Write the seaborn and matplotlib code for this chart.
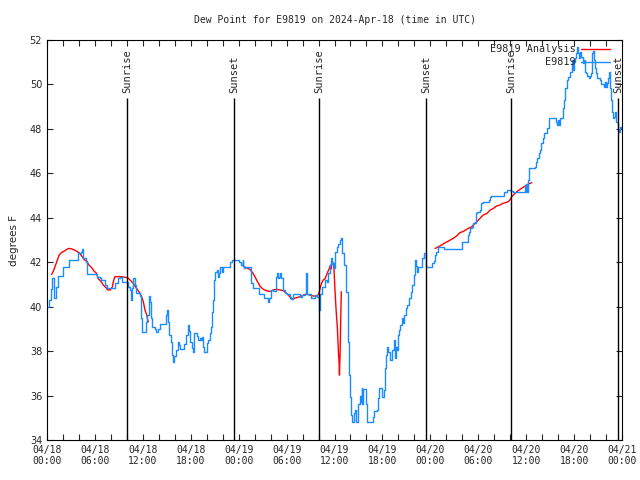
import pandas as pd
import matplotlib
matplotlib.use('Agg')
import matplotlib.pyplot as plt
import matplotlib.dates as mdates
import seaborn as sns

# hours since 2024-04-18 00:00 UTC, dew point in degrees F
obs_day1 = [(0.0, 40.0), (0.2, 40.3), (0.45, 40.8), (0.66, 41.3), (0.9, 40.4), (1.1, 40.9),
            (1.4, 41.4), (2.0, 41.8), (2.7, 42.1), (3.9, 42.4), (4.3, 42.45), (4.4, 42.6),
            (4.5, 42.2), (4.9, 42.0), (5.05, 41.45), (6.2, 41.45), (6.3, 41.35), (6.6, 41.27),
            (6.8, 41.2), (7.3, 40.97), (7.5, 40.83), (8.3, 40.83), (8.5, 41.05), (8.9, 41.27),
            (9.2, 41.35), (9.35, 41.12), (10.2, 40.9), (10.4, 40.75), (10.5, 40.3), (10.7, 40.83),
            (10.8, 41.27), (11.0, 40.97), (11.2, 40.6), (11.6, 40.5), (11.77, 39.47), (11.85, 38.87),
            (12.35, 39.3), (12.5, 39.62), (12.75, 40.5), (12.9, 40.2), (13.05, 39.47), (13.2, 39.1),
            (13.5, 39.0), (13.7, 38.87), (13.9, 39.0), (14.15, 39.2), (14.85, 39.62), (15.0, 39.85),
            (15.1, 39.3), (15.28, 38.72), (15.5, 38.42), (15.7, 37.82), (15.8, 37.5), (15.9, 37.8),
            (16.1, 38.05), (16.4, 38.42), (16.55, 38.28), (16.7, 38.1), (17.2, 38.3), (17.45, 38.72),
            (17.65, 39.17), (17.75, 38.9), (17.9, 38.42), (18.1, 38.12), (18.25, 37.95), (18.45, 38.8),
            (18.8, 38.7), (18.9, 38.5), (19.1, 38.6), (19.3, 38.5), (19.4, 38.65), (19.55, 38.2),
            (19.66, 37.97), (20.0, 38.35), (20.15, 38.5), (20.4, 38.8), (20.5, 39.1), (20.6, 39.77),
            (20.8, 40.3), (20.9, 41.2), (21.0, 41.57), (21.25, 41.65), (21.35, 41.35), (21.5, 41.5),
            (21.66, 41.8), (21.9, 41.57), (22.1, 41.8), (22.9, 42.02), (23.2, 42.12), (23.75, 42.12),
            (24.0, 42.0), (24.3, 41.87), (24.5, 42.1), (24.6, 41.85), (24.7, 41.72), (24.8, 41.8)]

obs_day2 = [(25.4, 41.8), (25.5, 41.5), (25.6, 41.05), (25.76, 40.83), (26.3, 40.83), (26.5, 40.57),
            (27.0, 40.57), (27.2, 40.37), (27.6, 40.37), (27.7, 40.22), (27.8, 40.37), (28.1, 40.75),
            (28.3, 40.72), (28.7, 41.35), (28.8, 41.53), (28.95, 41.27), (29.1, 41.35), (29.2, 41.53),
            (29.3, 41.27), (29.5, 40.75), (29.7, 40.75), (29.8, 40.6), (30.1, 40.58), (30.4, 40.45),
            (30.6, 40.33), (30.85, 40.57), (31.5, 40.57), (31.7, 40.45), (31.9, 40.52), (32.3, 40.58),
            (32.4, 41.5), (32.5, 41.2), (32.6, 40.58), (32.9, 40.55), (33.0, 40.37), (33.4, 40.37),
            (33.6, 40.52), (33.8, 40.45), (33.95, 40.45), (34.0, 40.0), (34.1, 39.85), (34.2, 40.58),
            (34.4, 40.9), (34.6, 40.9), (34.8, 41.2), (35.0, 41.12), (35.2, 41.5), (35.4, 41.87),
            (35.6, 42.17), (35.7, 41.9), (35.8, 41.95), (35.9, 41.75), (36.06, 42.47), (36.3, 42.7),
            (36.5, 42.82), (36.7, 43.0), (36.8, 43.1), (36.9, 42.4), (37.1, 42.4), (37.2, 41.87),
            (37.4, 40.67), (37.65, 39.47), (37.7, 38.42), (37.8, 36.92), (37.95, 35.95), (38.05, 35.12),
            (38.15, 34.82), (38.4, 35.2), (38.57, 35.35), (38.7, 35.12), (38.75, 34.82), (38.9, 35.12),
            (39.0, 35.6), (39.2, 36.0), (39.3, 35.7), (39.4, 36.32), (39.5, 35.6), (39.6, 36.3),
            (39.9, 36.3), (40.0, 35.6), (40.1, 34.82), (40.65, 34.82), (40.8, 35.05), (41.0, 35.3),
            (41.3, 35.35), (41.4, 35.87), (41.6, 36.32), (41.9, 36.32), (42.0, 35.95), (42.2, 36.25),
            (42.3, 37.22), (42.4, 37.82), (42.6, 38.2), (42.7, 37.97), (42.95, 37.9), (43.0, 37.6),
            (43.1, 37.6), (43.2, 38.05), (43.4, 38.5), (43.6, 37.7), (43.7, 38.2), (43.8, 38.05),
            (43.9, 38.72), (44.1, 38.95), (44.2, 39.17), (44.4, 39.4), (44.5, 39.47), (44.6, 39.25),
            (44.75, 39.62), (44.9, 39.92), (45.1, 40.07), (45.3, 40.37), (45.6, 40.67), (45.75, 40.97),
            (45.9, 41.42), (46.05, 41.72), (46.1, 42.1), (46.2, 41.85), (46.3, 41.57), (46.5, 41.8),
            (46.7, 41.8), (46.9, 41.82), (47.0, 42.17), (47.25, 42.4), (47.4, 42.05), (47.5, 41.8)]

obs_day3 = [(48.1, 41.8), (48.2, 41.95), (48.4, 42.05), (48.6, 42.32), (48.75, 42.45), (48.9, 42.55),
            (49.0, 42.67), (49.6, 42.67), (49.7, 42.6), (51.9, 42.6), (52.0, 42.92), (52.55, 42.92),
            (52.7, 43.22), (52.9, 43.37), (53.0, 43.52), (53.2, 43.6), (53.3, 43.75), (53.6, 43.75),
            (53.7, 44.2), (53.9, 44.27), (54.2, 44.35), (54.3, 44.65), (54.6, 44.72), (55.26, 44.72),
            (55.4, 44.8), (55.5, 44.92), (55.6, 44.98), (57.1, 44.98), (57.2, 45.17), (57.5, 45.17),
            (57.6, 45.25), (58.1, 45.22), (58.3, 45.17), (59.6, 45.17), (59.8, 45.25), (59.9, 45.37),
            (59.95, 45.17), (60.0, 45.5), (60.1, 45.17), (60.2, 45.7), (60.3, 46.0), (60.4, 46.22),
            (61.1, 46.3), (61.2, 46.52), (61.4, 46.67), (61.6, 46.9), (61.7, 47.05), (61.9, 47.35),
            (62.1, 47.57), (62.2, 47.8), (62.5, 47.8), (62.6, 48.02), (62.8, 48.1), (62.9, 48.47),
            (63.6, 48.47), (63.75, 48.3), (63.9, 48.17), (64.0, 48.4), (64.1, 48.17), (64.2, 48.47),
            (64.5, 48.47), (64.6, 48.92), (64.7, 49.3), (64.9, 49.83), (65.1, 50.2), (65.3, 50.35),
            (65.5, 50.57), (65.7, 50.8), (65.8, 51.1), (65.9, 50.65), (66.0, 51.0), (66.1, 51.2),
            (66.2, 51.4), (66.4, 51.7), (66.5, 51.4), (66.6, 51.2), (66.8, 51.47), (66.9, 51.25),
            (67.1, 50.95), (67.2, 51.1), (67.4, 50.57), (67.5, 50.5), (67.6, 50.4), (67.9, 50.27),
            (68.0, 50.4), (68.1, 50.5), (68.2, 50.8), (68.3, 51.4), (68.4, 51.5), (68.5, 51.1),
            (68.6, 50.72), (68.8, 50.5), (68.9, 50.27), (69.2, 50.2), (69.4, 50.0), (69.6, 50.0),
            (69.75, 49.9), (69.9, 50.1), (70.0, 49.9), (70.1, 50.05), (70.2, 50.3), (70.4, 50.57),
            (70.5, 49.85), (70.6, 49.3), (70.7, 48.77), (70.85, 48.47), (71.0, 48.55), (71.1, 48.77),
            (71.3, 48.3), (71.5, 48.0), (71.6, 47.87), (71.7, 48.1), (71.9, 48.05), (72.0, 48.0)]

# analysis series, three separate runs
anl_run1 = [(0.58, 41.45), (0.8, 41.6), (1.0, 41.8), (1.3, 42.1), (1.5, 42.3), (1.7, 42.4),
            (2.0, 42.47), (2.5, 42.58), (2.75, 42.62), (3.1, 42.6), (3.4, 42.55), (3.7, 42.5),
            (4.1, 42.4), (4.4, 42.25), (4.7, 42.1), (5.0, 42.05), (5.2, 41.9), (5.6, 41.75),
            (5.9, 41.6), (6.2, 41.5), (6.4, 41.27), (6.8, 41.12), (7.05, 40.97), (7.4, 40.85),
            (7.6, 40.75), (7.9, 40.75), (8.2, 40.9), (8.3, 41.12), (8.5, 41.35), (9.35, 41.35),
            (10.1, 41.3), (10.4, 41.2), (10.8, 41.05), (11.2, 40.83), (11.65, 40.6), (11.85, 40.45),
            (12.06, 40.22), (12.27, 39.85), (12.5, 39.62), (12.6, 39.4), (12.7, 39.32)]

anl_run2 = [(24.6, 41.8), (25.0, 41.75), (25.4, 41.68), (25.8, 41.5), (26.25, 41.2), (26.7, 40.9),
            (27.1, 40.78), (27.5, 40.72), (27.9, 40.68), (28.3, 40.75), (28.75, 40.78), (29.2, 40.75),
            (29.6, 40.72), (30.0, 40.6), (30.4, 40.45), (30.6, 40.33), (30.9, 40.37), (31.2, 40.4),
            (31.7, 40.45), (32.1, 40.52), (32.5, 40.57), (32.9, 40.52), (33.35, 40.48), (33.8, 40.48),
            (34.0, 40.55), (34.2, 40.83), (34.4, 41.08), (34.6, 41.2), (34.8, 41.25), (35.0, 41.42),
            (35.2, 41.6), (35.35, 41.72), (35.5, 41.87), (35.6, 41.7), (35.7, 42.1), (35.8, 41.9),
            (35.9, 41.95), (36.06, 40.75), (36.2, 39.85), (36.35, 39.1), (36.5, 37.9), (36.58, 37.45),
            (36.62, 36.92), (36.7, 37.9), (36.78, 39.4), (36.85, 40.67)]

anl_run3 = [(48.6, 42.62), (49.2, 42.73), (49.6, 42.82), (50.0, 42.9), (50.5, 43.0), (50.9, 43.08),
            (51.3, 43.18), (51.7, 43.33), (52.1, 43.38), (52.55, 43.48), (52.8, 43.53), (53.2, 43.6),
            (53.4, 43.68), (53.8, 43.82), (54.2, 43.97), (54.6, 44.12), (55.1, 44.2), (55.5, 44.35),
            (55.9, 44.42), (56.3, 44.53), (56.7, 44.57), (57.1, 44.65), (57.6, 44.7), (57.9, 44.77),
            (58.2, 44.95), (58.6, 45.1), (59.0, 45.22), (59.4, 45.32), (59.9, 45.43), (60.3, 45.52),
            (60.7, 45.58)]

sunrise_hours = [10.03, 34.06, 58.1]
sunset_hours = [23.42, 47.46, 71.5]

start = pd.Timestamp('2024-04-18 00:00')


def to_frame(runs):
    rows = []
    for i, run in enumerate(runs):
        for h, v in run:
            rows.append({'time': start + pd.Timedelta(hours=h), 'dewpt': v, 'run': i})
    return pd.DataFrame(rows)


obs = to_frame([obs_day1 + obs_day2 + obs_day3])
anl = to_frame([anl_run1, anl_run2, anl_run3])

sns.set_style('ticks')
plt.rcParams['font.family'] = ['DejaVu Sans Mono']

fig = plt.figure(figsize=(6.4, 4.8), dpi=100)
ax = fig.add_axes([47 / 640, 40 / 480, 575 / 640, 400 / 480])

sns.lineplot(data=anl, x='time', y='dewpt', units='run', estimator=None,
             color='red', linewidth=1.0, ax=ax, label='E9819 Analysis')
sns.lineplot(data=obs, x='time', y='dewpt', estimator=None, color='#1a8cff',
             linewidth=1.0, drawstyle='steps-post', ax=ax, label='E9819')

# sunrise / sunset markers
for h in sunrise_hours:
    t = start + pd.Timedelta(hours=h)
    ax.vlines(t, 34, 49.4, color='black', linewidth=1.0)
    ax.text(t, 49.6, 'Sunrise', rotation=90, ha='center', va='bottom', fontsize=7.5, clip_on=False)
for h in sunset_hours:
    t = start + pd.Timedelta(hours=h)
    ax.vlines(t, 34, 49.4, color='black', linewidth=1.0)
    ax.text(t, 49.6, 'Sunset', rotation=90, ha='center', va='bottom', fontsize=7.5, clip_on=False)

ax.set_xlim(start, start + pd.Timedelta(hours=72))
ax.set_ylim(34, 52)
ax.set_yticks(range(34, 53, 2))
ax.xaxis.set_major_locator(mdates.HourLocator(byhour=[0, 6, 12, 18]))
ax.xaxis.set_minor_locator(mdates.HourLocator(byhour=range(0, 24, 2)))
ax.xaxis.set_major_formatter(mdates.DateFormatter('%m/%d\n%H:%M'))
ax.tick_params(axis='both', which='both', direction='in', top=True, right=True,
               length=4, width=0.8, labelsize=7)
for lbl in ax.get_yticklabels():
    lbl.set_family('DejaVu Sans')
for sp in ax.spines.values():
    sp.set_linewidth(0.8)
    sp.set_color('black')

ax.set_xlabel('')
ax.set_ylabel('degrees F', family='DejaVu Sans', fontsize=7.5, labelpad=8)
ax.set_title('Dew Point for E9819 on 2024-Apr-18 (time in UTC)', fontsize=7, pad=12.5)

# one legend entry per series
handles, labels = ax.get_legend_handles_labels()
seen = {}
for hnd, lab in zip(handles, labels):
    seen.setdefault(lab, hnd)
ax.legend(list(seen.values()), list(seen.keys()), loc='upper right',
          bbox_to_anchor=(0.987, 1.0), frameon=False, markerfirst=False,
          fontsize=7.3, handlelength=2.9, handletextpad=0.55,
          labelspacing=0.3, borderaxespad=0.0)

fig.savefig('out.png', dpi=100)
plt.close(fig)
